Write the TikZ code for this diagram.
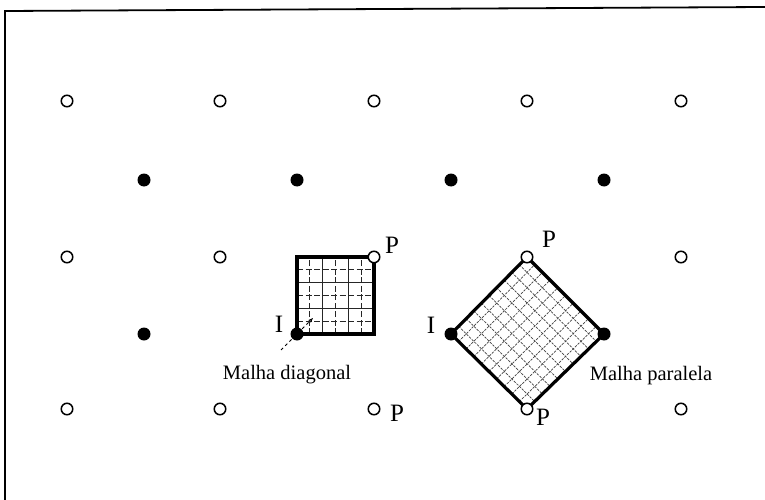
\documentclass[tikz,border=0pt]{standalone}
\usepackage{fontspec}
\setmainfont{Liberation Serif}
\usetikzlibrary{arrows.meta,calc}
\tikzset{
  opendot/.style={circle, draw, line width=1.5pt, fill=white, minimum size=11.5pt, inner sep=0pt},
  fulldot/.style={circle, fill=black, minimum size=13pt, inner sep=0pt},
  letter/.style={font=\fontsize{25}{27}\selectfont, inner sep=0pt},
  caption/.style={font=\fontsize{20.5}{22}\selectfont, inner sep=0pt},
  frameline/.style={line width=1.8pt},
  cellbox/.style={line width=3.2pt, line join=miter},
  meshsolid/.style={line width=0.9pt, black!85},
  meshdash/.style={line width=0.9pt, black!85, dash pattern=on 6pt off 2.5pt},
  hatch/.style={line width=0.7pt, black!75, dash pattern=on 2.5pt off 1.2pt},
}
\begin{document}
\begin{tikzpicture}[x=1pt,y=-1pt]
\useasboundingbox (0,0) rectangle (765,500);

% frame (top and left edges)
\coordinate (fTL) at (5,11);
\coordinate (fTR) at (765,7);
\coordinate (fBL) at (5,500);
\draw[frameline] (fTR) -- (fTL) -- (fBL);

% square cell corners
\coordinate (sBL) at (297,334);
\coordinate (sTL) at (297,257);
\coordinate (sTR) at (374,257);
\coordinate (sBR) at (374,334);

% square cell mesh: dashed and solid lines alternate
\foreach \a in {1,3,5} {
  \draw[meshdash] ($(sBL)!\a/6!(sBR)$) -- ($(sTL)!\a/6!(sTR)$);
  \draw[meshdash] ($(sBL)!\a/6!(sTL)$) -- ($(sBR)!\a/6!(sTR)$);
}
\foreach \a in {2,4} {
  \draw[meshsolid] ($(sBL)!\a/6!(sBR)$) -- ($(sTL)!\a/6!(sTR)$);
  \draw[meshsolid] ($(sBL)!\a/6!(sTL)$) -- ($(sBR)!\a/6!(sTR)$);
}
\draw[cellbox] (sBL) -- (sTL) -- (sTR) -- (sBR) -- cycle;

% diamond cell corners
\coordinate (dL) at (451,334);
\coordinate (dT) at (527,257);
\coordinate (dR) at (604,334);
\coordinate (dB) at (527,409);

% diamond cell mesh, parallel to its edges
\foreach \k in {1,...,9} {
  \draw[hatch] ($(dL)!\k/10!(dT)$) -- ($(dB)!\k/10!(dR)$);
  \draw[hatch] ($(dL)!\k/10!(dB)$) -- ($(dT)!\k/10!(dR)$);
}
\draw[cellbox] (dL) -- (dT) -- (dR) -- (dB) -- cycle;

% leader of the diagonal mesh label
\coordinate (leadA) at (281,350);
\coordinate (leadB) at (313,318);
\draw[line width=0.9pt, dashed, -{Stealth[length=5pt]}] (leadA) -- (leadB);

% open lattice points
\foreach \i/\x in {1/67,2/220,3/374,4/527,5/681}
  \foreach \j/\y in {1/101,2/257,3/409}
    \node[opendot] (o\i\j) at (\x,\y) {};

% filled lattice points
\foreach \i/\x in {1/144,2/297,3/451,4/604}
  \foreach \j/\y in {1/180,2/334}
    \node[fulldot] (f\i\j) at (\x,\y) {};

% letters
\node[letter] (pA) at (392,245) {P};
\node[letter] (pB) at (549,239) {P};
\node[letter] (pC) at (543,417) {P};
\node[letter] (pD) at (397,413) {P};
\node[letter] (iA) at (279,324) {I};
\node[letter] (iB) at (431,325) {I};

% captions
\node[caption] (capD) at (287,375) {Malha diagonal};
\node[caption] (capP) at (651,376) {Malha paralela};
\end{tikzpicture}
\end{document}
